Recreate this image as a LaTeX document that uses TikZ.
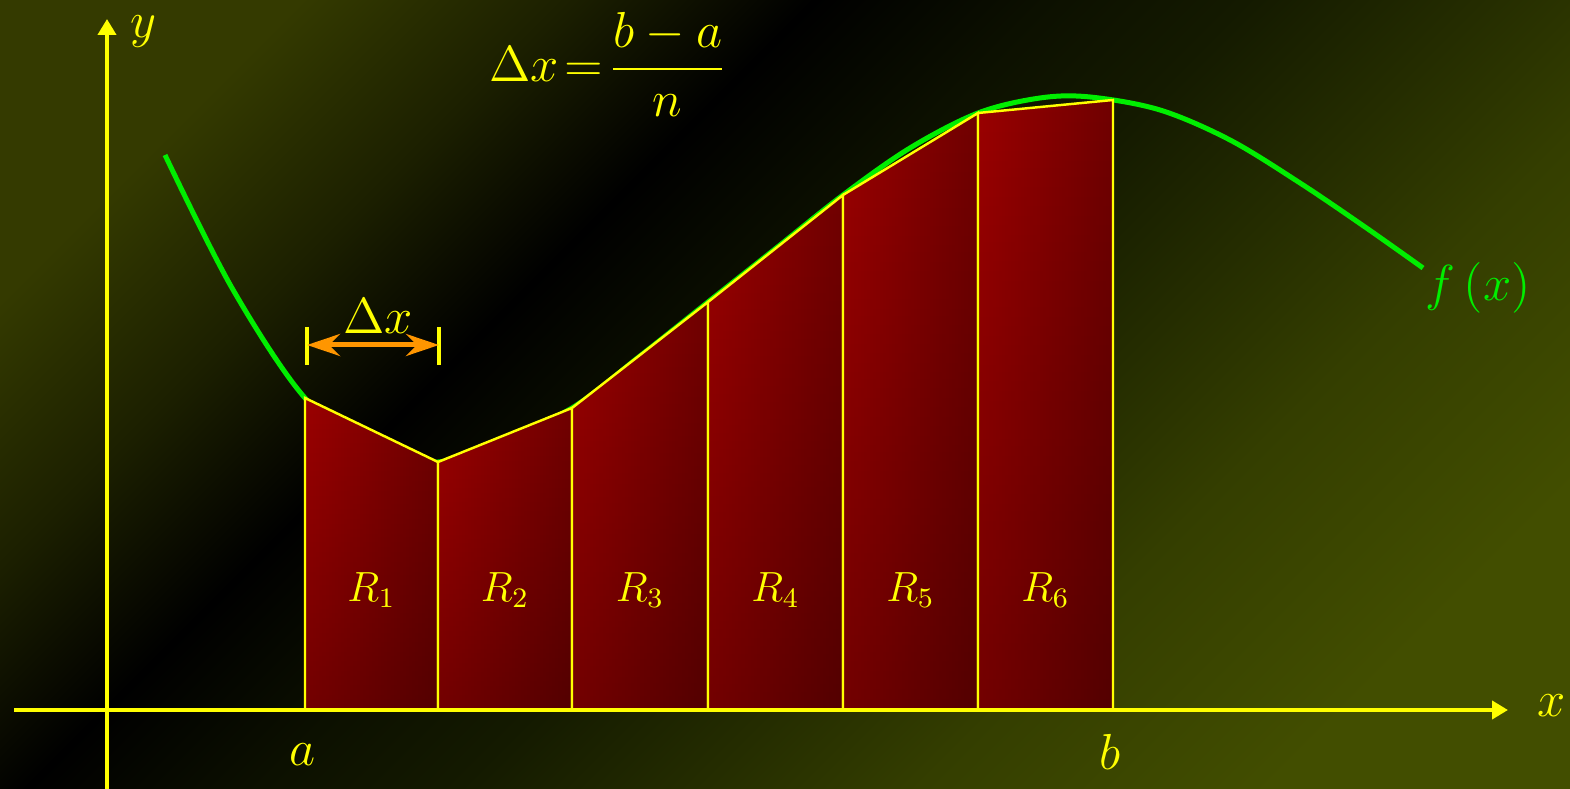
\documentclass[tikz,border=0pt]{standalone}
\usepackage{amsmath}
\usepackage{tikz}
\usetikzlibrary{arrows.meta,fadings}
\definecolor{BgA}{RGB}{52,58,0}
\definecolor{BgB}{RGB}{28,32,0}
\definecolor{BgC}{RGB}{12,16,0}
\definecolor{BgD}{RGB}{20,26,0}
\definecolor{BgE}{RGB}{36,44,0}
\definecolor{BgF}{RGB}{52,62,0}
\definecolor{BgG}{RGB}{66,78,0}
\definecolor{TrapLight}{RGB}{155,0,0}
\definecolor{TrapDark}{RGB}{112,0,0}
\definecolor{AxisYellow}{RGB}{255,255,0}
\definecolor{CurveGreen}{RGB}{0,238,0}
\definecolor{DeltaOrange}{RGB}{255,150,0}
\pgfdeclarehorizontalshading{bgshade}{100bp}{color(0bp)=(BgA); color(23.5bp)=(BgA); color(31.5bp)=(BgB); color(39bp)=(black); color(46bp)=(BgC); color(52bp)=(BgD); color(59bp)=(BgE); color(65.9bp)=(BgF); color(76.5bp)=(BgG); color(100bp)=(BgG)}
\pgfdeclarehorizontalshading{redshade}{100bp}{color(0bp)=(TrapLight); color(25bp)=(TrapLight); color(75bp)=(TrapDark); color(100bp)=(TrapDark)}

\begin{document}
\begin{tikzpicture}[x=0.01cm, y=-0.01cm,
  axis/.style={draw=AxisYellow, line width=0.4mm, -{Triangle[length=1.6mm, width=1.8mm]}},
  trapfade/.style={fill=black, fill opacity=0.26, path fading=north},
  trapedge/.style={draw=AxisYellow, line width=0.7pt},
  trap/.style={shade, shading=redshade, postaction={trapfade}, postaction={trapedge}},
  curve/.style={draw=CurveGreen, line width=0.5mm},
  lab/.style={text=AxisYellow, font=\Large, inner sep=0pt},
  rlab/.style={text=AxisYellow, font=\large, inner sep=0pt},
  tick/.style={draw=AxisYellow, line width=0.35mm},
  delta/.style={draw=DeltaOrange, line width=0.5mm, {Stealth[length=3.3mm, width=2.2mm, inset=1.1mm]}-{Stealth[length=3.3mm, width=2.2mm, inset=1.1mm]}}]
\useasboundingbox (0,0) rectangle (1570,789);
\shade[shading=bgshade, shading angle=-45] (0,0) rectangle (1570,789);
\draw[curve] plot[smooth, tension=0.55] coordinates {(165,155) (232,288) (305,398) (372,447) (438,462) (505,438) (572,408) (640,356) (708,302) (775,249) (843,195) (910,148) (978,113) (1040,98) (1090,97) (1160,110) (1230,140) (1300,183) (1365,227) (1423,268)};
\foreach \xa/\ya/\xb/\yb [count=\i] in {305/398/438/462, 438/462/572/408, 572/408/708/302, 708/302/843/195, 843/195/978/113, 978/113/1113/100} {
  \path[trap] (\xa,710) -- (\xa,\ya) -- (\xb,\yb) -- (\xb,710) -- cycle;
  \node[rlab] (r\i) at ({(\xa+\xb)/2},590) {$R_{\i}$};
}
\coordinate (xstart) at (14,710);
\coordinate (xend) at (1508,710);
\coordinate (ystart) at (107,789);
\coordinate (yend) at (107,19);
\draw[axis] (xstart) -- (xend);
\draw[axis] (ystart) -- (yend);
\node[lab] (xlab) at (1552,706) {$x$};
\node[lab] (ylab) at (143,32) {$y$};
\node[lab] (alab) at (303,755) {$a$};
\node[lab] (blab) at (1110,752) {$b$};
\node[lab, text=CurveGreen] (fx) at (1478,288) {$f\,(x)$};
\node[lab] (formula) at (608,64) {$\Delta x\!=\!\dfrac{b-a}{n}$};
\coordinate (dl) at (307,345);
\coordinate (dr) at (439,345);
\draw[tick] (307,327) -- (307,365);
\draw[tick] (439,327) -- (439,365);
\draw[delta] (dl) -- (dr);
\node[lab] (dxlab) at (378,316) {$\Delta x$};
\end{tikzpicture}
\end{document}
